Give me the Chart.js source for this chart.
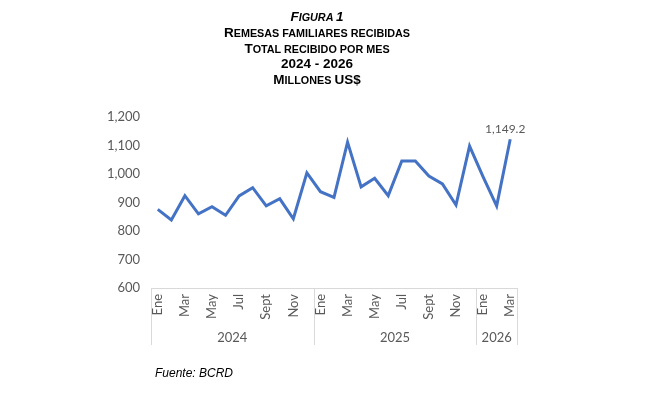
<!DOCTYPE html>
<html>
<head>
<meta charset="utf-8">
<script src="https://cdn.jsdelivr.net/npm/chart.js@4"></script>
<style>
  html, body { margin:0; padding:0; background:#fff; }
  #wrap { position:relative; width:650px; height:400px; overflow:hidden; }
  #c { position:absolute; left:0; top:0; }
  .t { position:absolute; left:-8px; width:650px; text-align:center; font-family:"Liberation Sans", Arial, sans-serif; font-weight:bold; font-size:13.5px; line-height:16px; color:#000; white-space:nowrap; }
  .t .s { font-size:10.8px; }
  #src { position:absolute; left:155px; top:366px; font-family:"Liberation Sans", Arial, sans-serif; font-style:italic; font-size:12px; color:#000; }
</style>
</head>
<body>
<div id="wrap">
  <canvas id="c" width="650" height="400"></canvas>
  <div class="t" id="t1" style="top:9px;font-style:italic;"></div>
  <div class="t" id="t2" style="top:25px;"></div>
  <div class="t" id="t3" style="top:41px;"></div>
  <div class="t" id="t4" style="top:56px;"></div>
  <div class="t" id="t5" style="top:72px;"></div>
  <div id="src">Fuente: BCRD</div>
</div>
<script>
const titleLines = ['Figura 1', 'Remesas familiares recibidas', 'Total recibido por mes', '2024 - 2026', 'Millones US$'];
const months = ['Ene','Feb','Mar','Abr','May','Jun','Jul','Ago','Sept','Oct','Nov','Dic',
                'Ene','Feb','Mar','Abr','May','Jun','Jul','Ago','Sept','Oct','Nov','Dic',
                'Ene','Feb','Mar'];
const years = ['2024','2025','2026'];
const yearCounts = [12, 12, 3];
const remesas = [876, 839, 924, 860, 885, 855, 923, 952, 888, 913, 843, 1004,
                 938, 918, 1112, 955, 985, 924, 1046, 1046, 993, 965, 891, 1098,
                 990, 888, 1122];
const lastLabel = '1,149.2';
const yTicks = [600, 700, 800, 900, 1000, 1100, 1200];

// small caps titles: lowercase letters become smaller capitals
function fillSmallCaps(el, text) {
  let cur = null, curSmall = null;
  for (const ch of text) {
    const small = ch !== ch.toUpperCase() || ch === ' ';
    if (cur === null || small !== curSmall) {
      cur = document.createElement('span');
      if (small) cur.className = 's';
      el.appendChild(cur);
      curSmall = small;
    }
    cur.textContent += ch.toUpperCase();
  }
}
titleLines.forEach((t, i) => {
  const el = document.getElementById('t' + (i + 1));
  if (i === 3) el.textContent = t; else fillSmallCaps(el, t);
});

const tickFont = { family: 'Lato', size: 13 };
const gray = '#595959';
const frameColor = '#d9d9d9';

const framePlugin = {
  id: 'frame',
  afterDraw(chart) {
    const ctx = chart.ctx;
    const xs = chart.scales.x;
    const area = chart.chartArea;
    const step = (xs.getPixelForValue(1) - xs.getPixelForValue(0));
    const bottom = area.bottom + 57;
    ctx.save();
    ctx.strokeStyle = frameColor;
    ctx.lineWidth = 1;
    ctx.beginPath();
    ctx.moveTo(area.left, area.bottom + 0.5);
    ctx.lineTo(area.right, area.bottom + 0.5);
    let idx = 0;
    const bounds = [xs.getPixelForValue(0) - step / 2];
    for (let i = 0; i < yearCounts.length; i++) {
      idx += yearCounts[i];
      bounds.push(xs.getPixelForValue(idx - 1) + step / 2);
    }
    bounds.forEach(b => {
      const x = Math.round(b) + 0.5;
      ctx.moveTo(x, area.bottom);
      ctx.lineTo(x, bottom);
    });
    ctx.stroke();
    ctx.fillStyle = gray;
    ctx.font = '13px Lato';
    ctx.textAlign = 'center';
    ctx.textBaseline = 'middle';
    for (let i = 0; i < years.length; i++) {
      ctx.fillText(years[i], (bounds[i] + bounds[i + 1]) / 2, area.bottom + 50);
    }
    const meta = chart.getDatasetMeta(0);
    const p = meta.data[meta.data.length - 1];
    ctx.font = '12px Lato';
    ctx.fillText(lastLabel, p.x - 5, p.y - 10);
    ctx.restore();
  }
};

new Chart(document.getElementById('c'), {
  type: 'line',
  data: {
    labels: months,
    datasets: [{
      data: remesas,
      borderColor: '#4472C4',
      borderWidth: 3,
      pointRadius: 0,
      tension: 0,
      fill: false
    }]
  },
  options: {
    responsive: false,
    animation: false,
    plugins: { legend: { display: false }, tooltip: { enabled: false } },
    layout: { padding: { left: 0, right: 133, top: 117, bottom: 0 } },
    scales: {
      x: {
        offset: true,
        grid: { display: false, drawTicks: false },
        border: { display: false },
        ticks: {
          autoSkip: false,
          minRotation: 90,
          maxRotation: 90,
          padding: 6,
          color: gray,
          font: tickFont,
          callback: function(v, i) { return i % 2 === 0 ? months[i] : ''; }
        },
        afterFit(s) { s.height = 400 - 288; }
      },
      y: {
        min: 600,
        max: 1200,
        grid: { display: false, drawTicks: false },
        border: { display: false },
        afterBuildTicks(s) { s.ticks = yTicks.map(v => ({ value: v })); },
        ticks: {
          padding: 11,
          color: gray,
          font: tickFont,
          callback: v => v.toLocaleString('en-US')
        },
        afterFit(s) { s.width = 151; }
      }
    }
  },
  plugins: [framePlugin]
});
</script>
</body>
</html>
